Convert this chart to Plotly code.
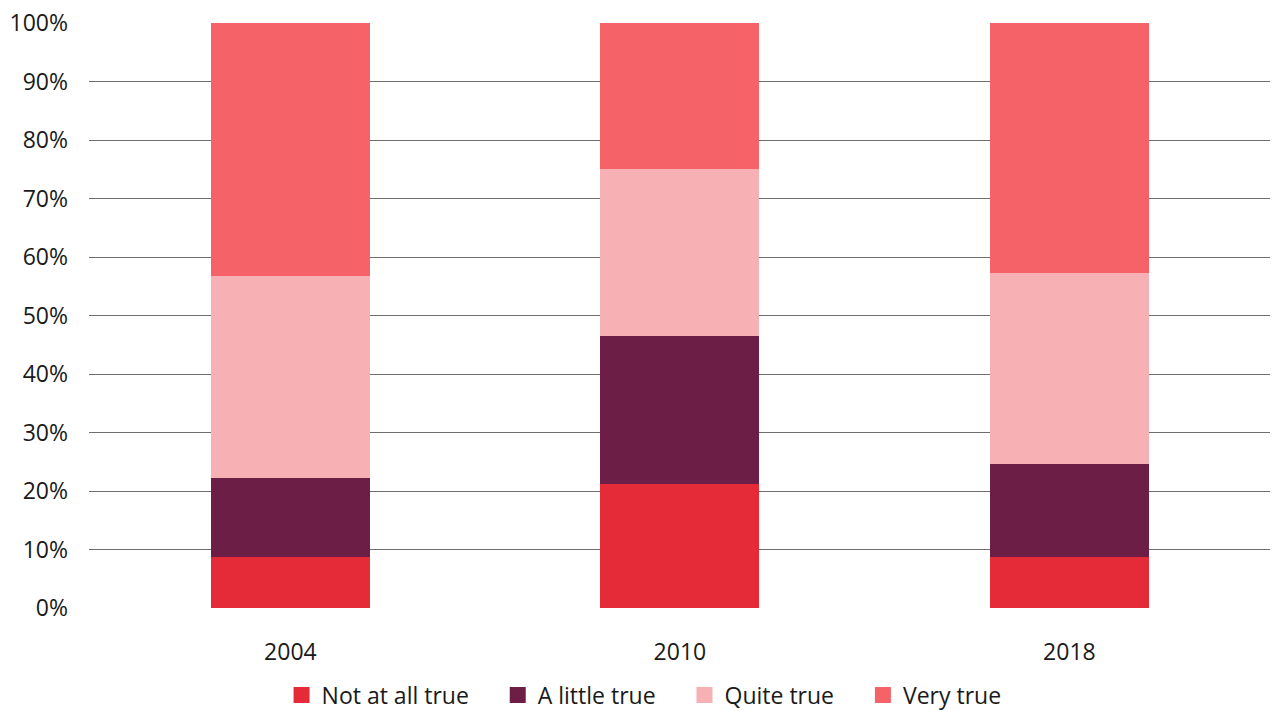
import plotly.graph_objects as go

# Survey years and share of responses (percent) per answer
years = ["2004", "2010", "2018"]
not_at_all_true = [8.8, 21.2, 8.8]
a_little_true = [13.5, 25.3, 15.9]
quite_true = [34.5, 28.6, 32.6]
very_true = [43.2, 24.9, 42.7]

series_names = ["Not at all true", "A little true", "Quite true", "Very true"]
series_values = [not_at_all_true, a_little_true, quite_true, very_true]
series_colors = ["#E52B37", "#6D1E46", "#F7B0B3", "#F56369"]

y_tick_vals = list(range(0, 101, 10))
y_tick_text = [f"{v}%" for v in y_tick_vals]

FONT = "Open Sans"
TEXT_COLOR = "#1a1a1a"
LEGEND_PAD = "\u00a0" * 4  # extra room between legend entries

fig = go.Figure()

for i, (name, vals, color) in enumerate(zip(series_names, series_values, series_colors)):
    fig.add_trace(go.Bar(
        x=years, y=vals, name=name,
        marker=dict(color=color, line=dict(width=0)),
        legendgroup=name, showlegend=False,
        hovertemplate="%{x}: %{y}%<extra>" + name + "</extra>",
    ))
    # larger square swatch for the legend entry
    pad = LEGEND_PAD if i < len(series_names) - 1 else ""
    fig.add_trace(go.Scatter(
        x=[None], y=[None], mode="markers", name=name + pad,
        marker=dict(symbol="square", size=17, color=color),
        legendgroup=name, showlegend=True,
    ))

fig.update_layout(
    width=1272, height=711,
    barmode="stack", bargap=0.592,
    plot_bgcolor="white", paper_bgcolor="white",
    margin=dict(l=89, r=2, t=23, b=103, autoexpand=False),
    font=dict(family=FONT, size=23, color=TEXT_COLOR),
    legend=dict(
        orientation="h", x=0.47, xanchor="center",
        y=-0.149, yanchor="middle",
        font=dict(family=FONT, size=23, color=TEXT_COLOR),
        itemclick=False, itemdoubleclick=False,
        traceorder="normal",
    ),
    xaxis=dict(
        type="category", range=[-0.517, 2.515],
        showgrid=False, zeroline=False, showline=False,
        ticks="", ticklabelstandoff=28,
        tickfont=dict(family=FONT, size=23, color=TEXT_COLOR),
    ),
    yaxis=dict(
        range=[0, 100], tickvals=y_tick_vals, ticktext=y_tick_text,
        showgrid=True, gridcolor="#6e6e6e", gridwidth=1,
        zeroline=False, showline=False, ticks="",
        ticklabelstandoff=20,
        tickfont=dict(family=FONT, size=23, color=TEXT_COLOR),
    ),
)

fig.write_html("out.html")
